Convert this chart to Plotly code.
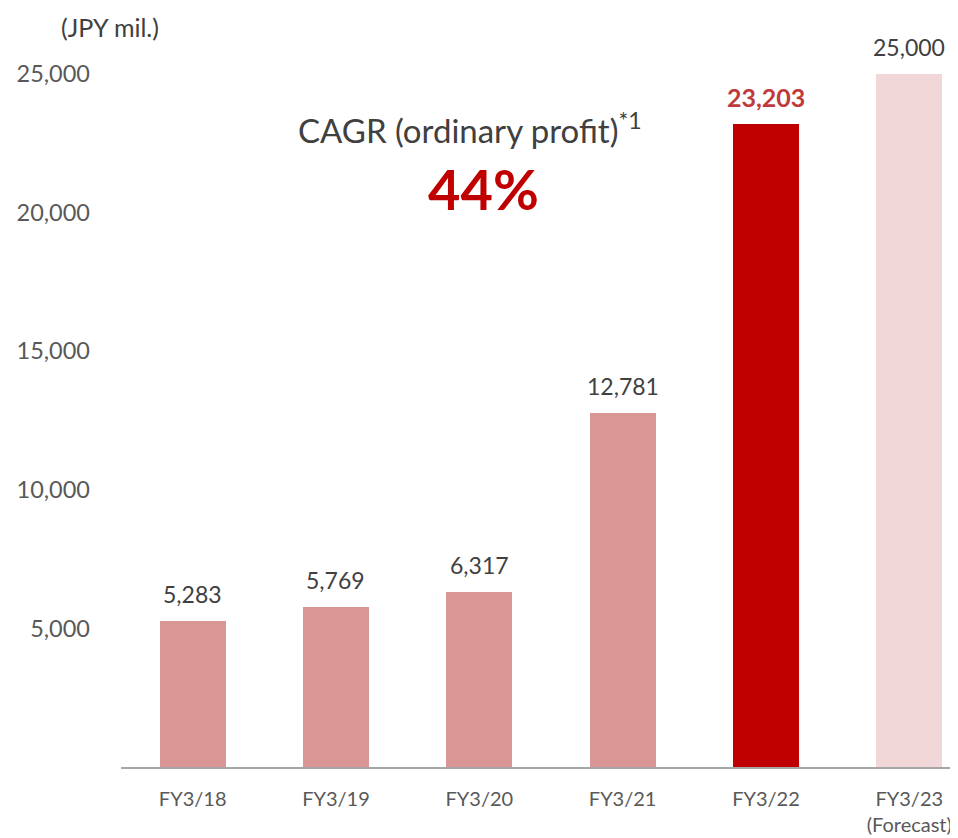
import plotly.graph_objects as go

categories = ["FY3/18", "FY3/19", "FY3/20", "FY3/21", "FY3/22", "FY3/23<br>(Forecast)"]
values = [5283, 5769, 6317, 12781, 23203, 25000]
value_labels = ["5,283", "5,769", "6,317", "12,781", "23,203", "25,000"]
bar_colors = ["#D99694", "#D99694", "#D99694", "#D99694", "#C00000", "#F2D7D8"]
label_colors = ["#404040", "#404040", "#404040", "#404040", "#C0393B", "#404040"]
label_bold = [False, False, False, False, True, False]
y_ticks = [5000, 10000, 15000, 20000, 25000]
y_tick_labels = ["5,000", "10,000", "15,000", "20,000", "25,000"]

FONT = "Lato"

fig = go.Figure()
fig.add_trace(go.Bar(
    x=list(range(len(categories))), y=values,
    marker=dict(color=bar_colors, line=dict(width=0)),
    width=0.46, hoverinfo="skip", cliponaxis=False,
))

for i, (v, lab, c, b) in enumerate(zip(values, value_labels, label_colors, label_bold)):
    fig.add_annotation(
        x=i, y=v, text=f"<b>{lab}</b>" if b else lab, showarrow=False,
        yanchor="middle", yshift=27,
        font=dict(family=FONT, size=25 if b else 23, color=c),
    )

PH = 693.0
fig.add_annotation(
    xref="paper", yref="paper", x=(110 - 121) / 837, y=(767 - 27) / PH, xanchor="center", yanchor="middle",
    text="(JPY mil.)", showarrow=False, font=dict(family=FONT, size=25, color="#404040"),
)
fig.add_annotation(
    xref="paper", yref="paper", x=(470 - 121) / 837, y=(767 - 128) / PH,
    xanchor="center", yanchor="middle",
    text="CAGR (ordinary profit)<sup>*1</sup>", showarrow=False,
    font=dict(family=FONT, size=33, color="#404040"),
)
fig.add_annotation(
    xref="paper", yref="paper", x=(483 - 121) / 837, y=(767 - 188) / PH,
    xanchor="center", yanchor="middle",
    text="<b>44%</b>", showarrow=False,
    font=dict(family=FONT, size=56, color="#C00000"),
)

fig.update_layout(
    width=950, height=830,
    margin=dict(l=113, r=0, t=66, b=71),
    paper_bgcolor="white", plot_bgcolor="white",
    showlegend=False,
    bargap=0,
    xaxis=dict(
        range=[-0.5, 5.34], tickmode="array",
        tickvals=list(range(len(categories))), ticktext=categories,
        showgrid=False, zeroline=False, showline=True, linecolor="#A6A6A6", linewidth=1.5,
        ticks="", tickfont=dict(family=FONT, size=20, color="#595959"),
        ticklabelstandoff=13,
    ),
    yaxis=dict(
        range=[0, 25000], tickmode="array", tickvals=y_ticks, ticktext=y_tick_labels,
        showgrid=False, zeroline=False, showline=False, ticks="",
        tickfont=dict(family=FONT, size=23.5, color="#595959"),
        ticklabelstandoff=30,
    ),
)

fig.write_html("out.html")
